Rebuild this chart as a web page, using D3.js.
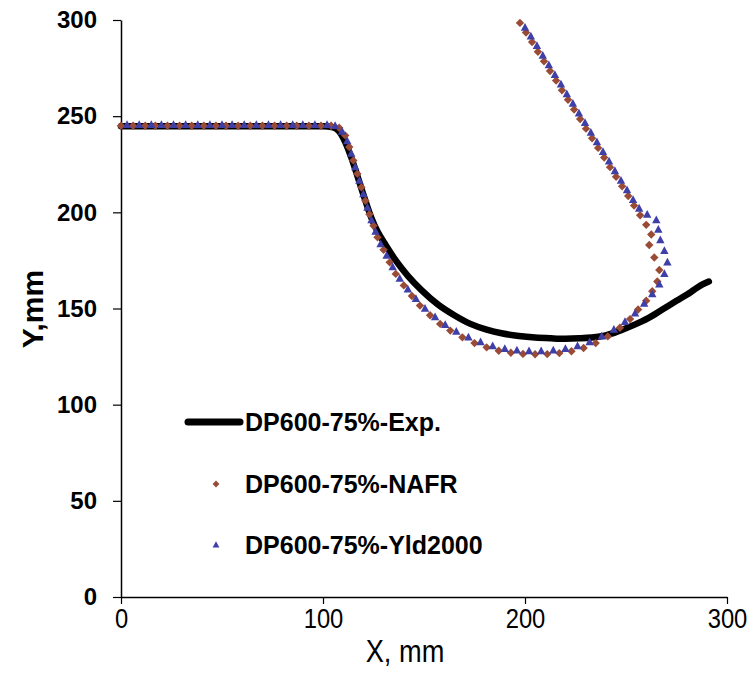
<!DOCTYPE html>
<html>
<head>
<meta charset="utf-8">
<script src="https://cdn.jsdelivr.net/npm/d3@7"></script>
<style>
  html, body { margin: 0; padding: 0; background: #fff; }
  svg { display: block; }
  text { font-family: "Liberation Sans", Arial, sans-serif; }
</style>
</head>
<body>
<svg id="chart" width="751" height="692"></svg>
<script>
// ---------- data ----------
const seriesNames = ["DP600-75%-Exp.", "DP600-75%-NAFR", "DP600-75%-Yld2000"];
const xTicks = [0, 100, 200, 300];
const yTicks = [0, 50, 100, 150, 200, 250, 300];

const expX = [0, 25, 50, 75, 100, 105, 108, 111, 114, 117, 121, 124, 127, 131, 136, 142, 149, 157, 165, 173, 181, 189, 197, 205, 213, 220, 227, 233, 240, 247, 254, 261, 268, 275, 282, 287, 291];
const expY = [244.8, 244.8, 244.8, 244.8, 244.8, 244.2, 242, 236.5, 228.5, 219, 206, 197, 190, 183, 175, 167, 159.3, 152, 146.5, 142, 139, 137, 135.7, 134.9, 134.5, 134.3, 134.5, 134.9, 136, 138.5, 141.5, 145, 149.5, 154, 158.5, 162, 164];

const nafrX = [0, 6, 12, 17, 23, 29, 35, 41, 47, 52, 58, 64, 70, 76, 82, 87, 93, 99, 104,
  108, 111, 113, 115, 117, 119, 121, 123, 125, 127, 130, 133, 136, 140, 144, 148, 153, 158, 163, 169, 175, 181, 187, 193, 199, 205, 211, 217, 223, 229, 235, 241, 247, 252, 256, 260, 263, 265.5, 266.5, 264, 261.5, 262.5, 260,
  257, 254, 251.1, 248.1, 245.1, 242.1, 239.2, 236.2, 233.2, 230.2, 227.3, 224.3, 221.3, 218.3, 215.4, 212.4, 209.4, 206.4, 203.5, 200.5, 197.5];
const nafrY = [245, 245, 245, 245, 245, 245, 245, 245, 245, 245, 245, 245, 245, 245, 245, 245, 245, 245, 245,
  244, 240, 234, 227, 220, 213, 206, 199, 193, 187, 180.5, 174, 168, 162, 156.5, 151.5, 146.5, 142, 138.5, 135, 132, 129.8, 128, 127, 126.4, 126.2, 126.3, 126.8, 127.8, 129.5, 132, 135.5, 140, 144.5, 149.5, 154, 159, 164, 170, 176.5, 183, 188.5, 193.5,
  198.5, 203.5, 208.5, 213.5, 218.5, 223.5, 228.5, 233.5, 238.5, 243.5, 248.5, 253.5, 258.5, 263.5, 268.5, 273.5, 278.5, 283.5, 288.5, 293.5, 298.5];

const yldX = [3, 9, 15, 20, 26, 32, 38, 44, 50, 55, 61, 67, 73, 79, 85, 90, 96, 102,
  106, 109.5, 112, 114, 116, 118, 120, 122, 124, 126, 128.5, 131.5, 134.5, 138, 142, 146, 150.5, 155.5, 160.5, 166, 172, 178, 184, 190, 196, 202, 208, 214, 220, 226, 232, 238, 244, 249.5, 254.5, 259, 263, 266.5, 269, 270.5, 269, 267, 266, 265, 260.5, 256.5,
  253.5, 250.5, 247.5, 244.5, 241.6, 238.6, 235.6, 232.6, 229.7, 226.7, 223.7, 220.7, 217.8, 214.8, 211.8, 208.8, 205.9, 202.9, 200];
const yldY = [245.5, 245.5, 245.5, 245.5, 245.5, 245.5, 245.5, 245.5, 245.5, 245.5, 245.5, 245.5, 245.5, 245.5, 245.5, 245.5, 245.5, 245.5,
  245, 242, 237, 230.5, 223.5, 216.5, 209.5, 202.5, 196, 190, 183.5, 177.5, 171.5, 165.5, 160, 155, 150, 145.5, 141.5, 138, 135, 132.5, 130.5, 129, 128.2, 127.8, 127.8, 128.2, 129, 130.5, 132.5, 135.5, 139, 143, 147.5, 152.5, 157.5, 162.5, 168, 174, 180, 185.5, 191, 196, 198.8, 202,
  206.5, 211.5, 216.5, 221.5, 226.5, 231.5, 236.5, 241.5, 246.5, 251.5, 256.5, 261.5, 266.5, 271.5, 276.5, 281.5, 286.5, 291.5, 296];

// ---------- layout ----------
const W = 751, H = 692;
const margin = { top: 20, right: 24, bottom: 95, left: 121 };
const svg = d3.select("#chart");
const x = d3.scaleLinear().domain([0, 300]).range([margin.left, W - margin.right]);
const y = d3.scaleLinear().domain([0, 300]).range([H - margin.bottom, margin.top]);

const colExp = "#000000", colNafr = "#9a4b35", colYld = "#3f3fa8";

// axes
const gx = svg.append("g").attr("transform", `translate(0,${y(0)})`)
  .call(d3.axisBottom(x).tickValues(xTicks).tickSize(7).tickSizeOuter(0).tickPadding(5));
gx.select(".domain").attr("stroke", "#000").attr("stroke-width", 1.5);
gx.selectAll(".tick line").attr("stroke", "#000").attr("stroke-width", 1.2);
gx.selectAll(".tick text").attr("font-size", 27).attr("fill", "#000")
  .attr("transform", "scale(0.88,1)");

const gy = svg.append("g").attr("transform", `translate(${x(0)},0)`)
  .call(d3.axisLeft(y).tickValues(yTicks).tickSize(8).tickSizeOuter(0).tickPadding(16));
gy.select(".domain").attr("stroke", "#000").attr("stroke-width", 1.5);
gy.selectAll(".tick line").attr("stroke", "#000").attr("stroke-width", 1.2);
gy.selectAll(".tick text").attr("font-size", 24).attr("font-weight", "bold").attr("fill", "#000");

// axis titles
svg.append("text").attr("transform", `translate(405,662) scale(0.85,1)`)
  .attr("text-anchor", "middle").attr("font-size", 32).text("X, mm");
svg.append("text").attr("transform", "translate(43,309) rotate(-90)")
  .attr("text-anchor", "middle").attr("font-size", 30).attr("font-weight", "bold").text("Y,mm");

// series
const expData = expX.map((d, i) => [d, expY[i]]);
const nafrData = nafrX.map((d, i) => [d, nafrY[i]]);
const yldData = yldX.map((d, i) => [d, yldY[i]]);

svg.append("path").datum(expData)
  .attr("fill", "none").attr("stroke", colExp).attr("stroke-width", 6.5)
  .attr("stroke-linecap", "round").attr("stroke-linejoin", "round")
  .attr("d", d3.line().x(d => x(d[0])).y(d => y(d[1])).curve(d3.curveMonotoneX));

const diamond = r => `M0,${-r}L${r},0L0,${r}L${-r},0Z`;
const triangle = r => `M0,${-r * 1.1}L${r},${r * 0.75}L${-r},${r * 0.75}Z`;

svg.append("g").selectAll("path").data(nafrData).join("path")
  .attr("transform", d => `translate(${x(d[0])},${y(d[1])})`)
  .attr("d", diamond(4.2)).attr("fill", colNafr);

svg.append("g").selectAll("path").data(yldData).join("path")
  .attr("transform", d => `translate(${x(d[0])},${y(d[1])})`)
  .attr("d", triangle(4.2)).attr("fill", colYld);

// legend
const lg = svg.append("g");
const legendRows = [422, 484, 545];
lg.append("line").attr("x1", 188).attr("x2", 240).attr("y1", legendRows[0]).attr("y2", legendRows[0])
  .attr("stroke", colExp).attr("stroke-width", 7).attr("stroke-linecap", "round");
lg.append("path").attr("transform", `translate(216,${legendRows[1]})`).attr("d", diamond(3.4)).attr("fill", colNafr);
lg.append("path").attr("transform", `translate(216,${legendRows[2]})`).attr("d", triangle(3.4)).attr("fill", colYld);
seriesNames.forEach((s, i) => {
  lg.append("text").attr("x", 245).attr("y", legendRows[i]).attr("dy", "0.36em")
    .attr("font-size", 25).attr("font-weight", "bold").attr("fill", "#000").text(s);
});
</script>
</body>
</html>
